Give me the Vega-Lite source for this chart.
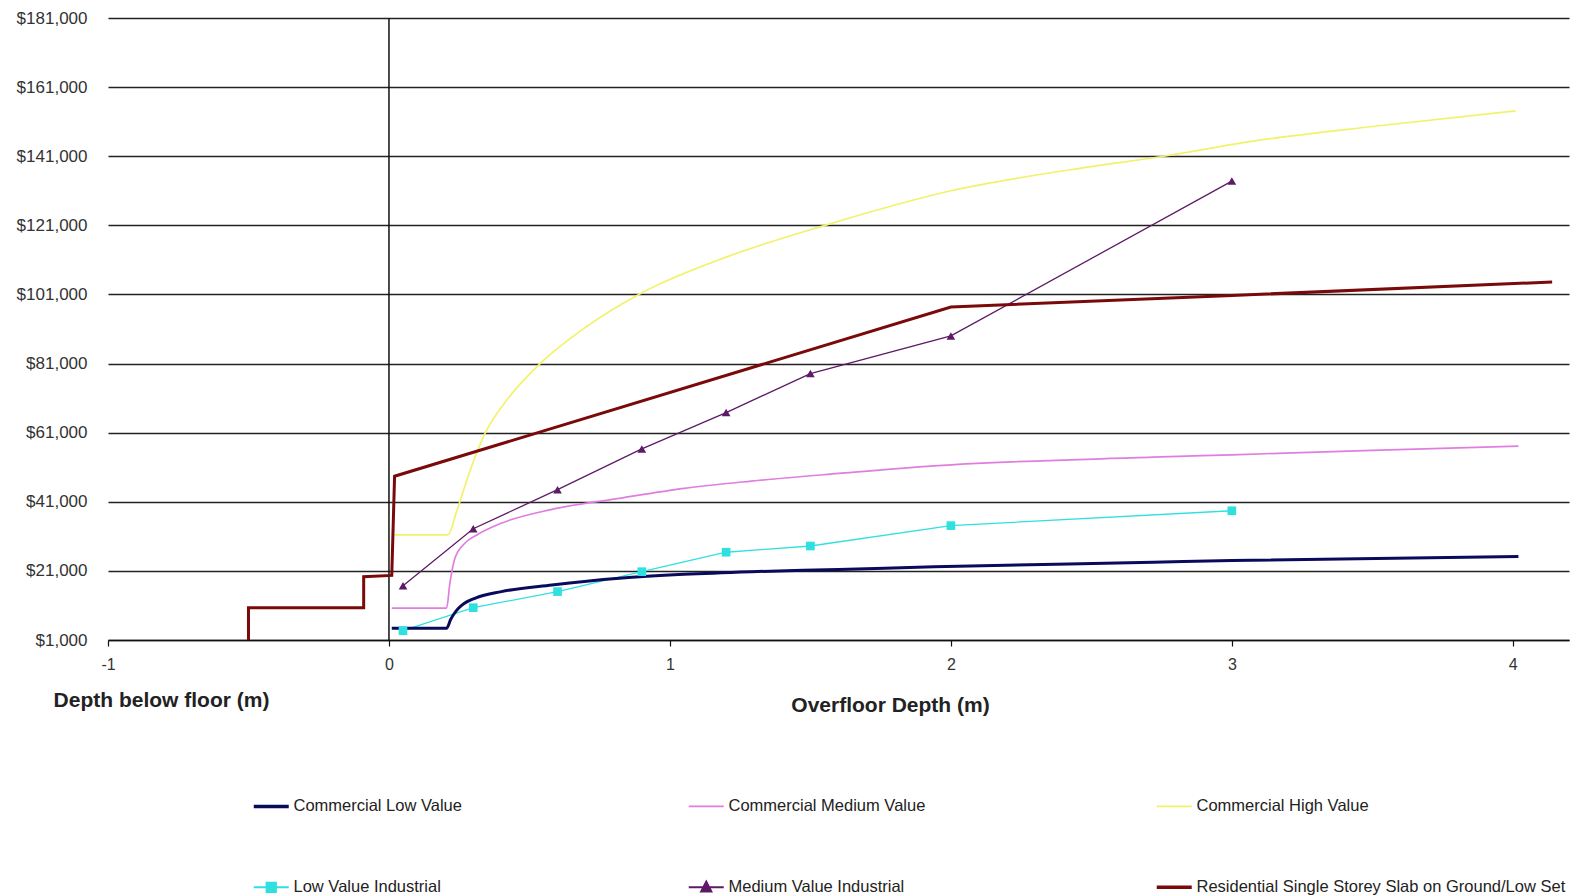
{
  "$schema": "https://vega.github.io/schema/vega-lite/v6.json",
  "width": 1461,
  "height": 622,
  "autosize": "none",
  "padding": {"left": 108, "top": 18, "right": 1, "bottom": 255},
  "background": "white",
  "config": {"font": "Liberation Sans", "view": {"stroke": null}},
  "data": {"values": [
    {"s": "Commercial Low Value", "i": 0, "x": 0.01, "y": 4400},
    {"s": "Commercial Low Value", "i": 1, "x": 0.205, "y": 4400},
    {"s": "Commercial Low Value", "i": 2, "x": 0.22, "y": 7000},
    {"s": "Commercial Low Value", "i": 3, "x": 0.24, "y": 9500},
    {"s": "Commercial Low Value", "i": 4, "x": 0.26, "y": 11100},
    {"s": "Commercial Low Value", "i": 5, "x": 0.31, "y": 13200},
    {"s": "Commercial Low Value", "i": 6, "x": 0.4, "y": 15000},
    {"s": "Commercial Low Value", "i": 7, "x": 0.58, "y": 16900},
    {"s": "Commercial Low Value", "i": 8, "x": 0.82, "y": 18850},
    {"s": "Commercial Low Value", "i": 9, "x": 1.05, "y": 20000},
    {"s": "Commercial Low Value", "i": 10, "x": 1.29, "y": 20770},
    {"s": "Commercial Low Value", "i": 11, "x": 1.6, "y": 21400},
    {"s": "Commercial Low Value", "i": 12, "x": 1.94, "y": 22200},
    {"s": "Commercial Low Value", "i": 13, "x": 2.72, "y": 23500},
    {"s": "Commercial Low Value", "i": 14, "x": 3.0, "y": 24000},
    {"s": "Commercial Low Value", "i": 15, "x": 4.02, "y": 25200},
    {"s": "Commercial Medium Value", "i": 0, "x": 0.01, "y": 10200},
    {"s": "Commercial Medium Value", "i": 1, "x": 0.205, "y": 10200},
    {"s": "Commercial Medium Value", "i": 2, "x": 0.217, "y": 17500},
    {"s": "Commercial Medium Value", "i": 3, "x": 0.235, "y": 24700},
    {"s": "Commercial Medium Value", "i": 4, "x": 0.27, "y": 29000},
    {"s": "Commercial Medium Value", "i": 5, "x": 0.313, "y": 31400},
    {"s": "Commercial Medium Value", "i": 6, "x": 0.4, "y": 34800},
    {"s": "Commercial Medium Value", "i": 7, "x": 0.58, "y": 38800},
    {"s": "Commercial Medium Value", "i": 8, "x": 0.82, "y": 42000},
    {"s": "Commercial Medium Value", "i": 9, "x": 1.05, "y": 44900},
    {"s": "Commercial Medium Value", "i": 10, "x": 1.29, "y": 47000},
    {"s": "Commercial Medium Value", "i": 11, "x": 1.6, "y": 49200},
    {"s": "Commercial Medium Value", "i": 12, "x": 1.94, "y": 51400},
    {"s": "Commercial Medium Value", "i": 13, "x": 2.72, "y": 53900},
    {"s": "Commercial Medium Value", "i": 14, "x": 3.0, "y": 54600},
    {"s": "Commercial Medium Value", "i": 15, "x": 3.5, "y": 55900},
    {"s": "Commercial Medium Value", "i": 16, "x": 4.02, "y": 57100},
    {"s": "Commercial High Value", "i": 0, "x": 0.02, "y": 31400},
    {"s": "Commercial High Value", "i": 1, "x": 0.21, "y": 31400},
    {"s": "Commercial High Value", "i": 2, "x": 0.24, "y": 38000},
    {"s": "Commercial High Value", "i": 3, "x": 0.27, "y": 45500},
    {"s": "Commercial High Value", "i": 4, "x": 0.3, "y": 52500},
    {"s": "Commercial High Value", "i": 5, "x": 0.34, "y": 60500},
    {"s": "Commercial High Value", "i": 6, "x": 0.42, "y": 70500},
    {"s": "Commercial High Value", "i": 7, "x": 0.538, "y": 81000},
    {"s": "Commercial High Value", "i": 8, "x": 0.7, "y": 91500},
    {"s": "Commercial High Value", "i": 9, "x": 0.889, "y": 101000},
    {"s": "Commercial High Value", "i": 10, "x": 1.2, "y": 111800},
    {"s": "Commercial High Value", "i": 11, "x": 1.552, "y": 121000},
    {"s": "Commercial High Value", "i": 12, "x": 2.0, "y": 131000},
    {"s": "Commercial High Value", "i": 13, "x": 2.5, "y": 138000},
    {"s": "Commercial High Value", "i": 14, "x": 2.758, "y": 141000},
    {"s": "Commercial High Value", "i": 15, "x": 3.07, "y": 145300},
    {"s": "Commercial High Value", "i": 16, "x": 3.5, "y": 149600},
    {"s": "Commercial High Value", "i": 17, "x": 4.01, "y": 154100},
    {"s": "Low Value Industrial", "i": 0, "x": 0.05, "y": 3700},
    {"s": "Low Value Industrial", "i": 1, "x": 0.3, "y": 10350},
    {"s": "Low Value Industrial", "i": 2, "x": 0.6, "y": 15000},
    {"s": "Low Value Industrial", "i": 3, "x": 0.9, "y": 20770},
    {"s": "Low Value Industrial", "i": 4, "x": 1.2, "y": 26400},
    {"s": "Low Value Industrial", "i": 5, "x": 1.5, "y": 28200},
    {"s": "Low Value Industrial", "i": 6, "x": 2.0, "y": 34100},
    {"s": "Low Value Industrial", "i": 7, "x": 3.0, "y": 38400},
    {"s": "Medium Value Industrial", "i": 0, "x": 0.05, "y": 16700},
    {"s": "Medium Value Industrial", "i": 1, "x": 0.3, "y": 33200},
    {"s": "Medium Value Industrial", "i": 2, "x": 0.6, "y": 44500},
    {"s": "Medium Value Industrial", "i": 3, "x": 0.9, "y": 56300},
    {"s": "Medium Value Industrial", "i": 4, "x": 1.2, "y": 66800},
    {"s": "Medium Value Industrial", "i": 5, "x": 1.5, "y": 78100},
    {"s": "Medium Value Industrial", "i": 6, "x": 2.0, "y": 89000},
    {"s": "Medium Value Industrial", "i": 7, "x": 3.0, "y": 133800},
    {"s": "Residential Single Storey Slab on Ground/Low Set", "i": 0, "x": -0.5, "y": 1000},
    {"s": "Residential Single Storey Slab on Ground/Low Set", "i": 1, "x": -0.5, "y": 10350},
    {"s": "Residential Single Storey Slab on Ground/Low Set", "i": 2, "x": -0.09, "y": 10350},
    {"s": "Residential Single Storey Slab on Ground/Low Set", "i": 3, "x": -0.09, "y": 19300},
    {"s": "Residential Single Storey Slab on Ground/Low Set", "i": 4, "x": 0.01, "y": 19700},
    {"s": "Residential Single Storey Slab on Ground/Low Set", "i": 5, "x": 0.02, "y": 48400},
    {"s": "Residential Single Storey Slab on Ground/Low Set", "i": 6, "x": 2.0, "y": 97370},
    {"s": "Residential Single Storey Slab on Ground/Low Set", "i": 7, "x": 3.0, "y": 100700},
    {"s": "Residential Single Storey Slab on Ground/Low Set", "i": 8, "x": 4.14, "y": 104600}
  ]},
  "resolve": {"axis": {"x": "independent"}},
  "layer": [
    {
      "data": {"values": [{"zero": 0}]},
      "mark": {"type": "rule", "color": "#111111", "strokeWidth": 1.5},
      "encoding": {
        "x": {"field": "zero", "type": "quantitative",
          "axis": {"orient": "bottom", "title": "Depth below floor (m)", "labels": false, "ticks": false, "domain": false, "grid": false,
            "titleFontSize": 21, "titleFontWeight": "bold", "titleColor": "#222222",
            "titleX": 53, "titleY": 60, "titleAlign": "center", "titleBaseline": "middle"}}
      }
    },
    {
      "transform": [{"filter": "datum.s === 'Commercial Medium Value' || datum.s === 'Commercial High Value'"}],
      "mark": {"type": "line", "interpolate": "monotone", "strokeWidth": 1.7},
      "encoding": {
        "x": {"field": "x", "type": "quantitative",
          "scale": {"domain": [-1, 4.2], "nice": false, "zero": false},
          "axis": {"orient": "bottom", "title": "Overfloor Depth (m)", "values": [-1, 0, 1, 2, 3, 4], "labelExpr": "'' + datum.value",
            "grid": false, "domainColor": "#111111", "domainWidth": 1.5, "tickColor": "#111111", "tickWidth": 1.2, "tickSize": 6,
            "labelFontSize": 16, "labelColor": "#333333", "labelPadding": 10, "labelFlush": false,
            "titleFontSize": 21, "titleFontWeight": "bold", "titleColor": "#222222",
            "titleX": 782, "titleY": 65, "titleAlign": "center", "titleBaseline": "middle"}},
        "y": {"field": "y", "type": "quantitative",
          "scale": {"domain": [1000, 181000], "nice": false, "zero": false},
          "axis": {"title": null, "values": [1000, 21000, 41000, 61000, 81000, 101000, 121000, 141000, 161000, 181000],
            "format": "$,.0f", "grid": true, "gridColor": "#222222", "gridWidth": 1.6, "ticks": false, "tickSize": 0,
            "domain": false, "labelFontSize": 17, "labelColor": "#333333", "labelPadding": 21}},
        "color": {"field": "s", "type": "nominal",
          "scale": {"domain": ["Commercial Low Value", "Commercial Medium Value", "Commercial High Value", "Low Value Industrial", "Medium Value Industrial", "Residential Single Storey Slab on Ground/Low Set"],
            "range": ["#0a0a5c", "#e07ee0", "#f2f26a", "#30e0e0", "#5e1a66", "#7a0a0a"]},
          "legend": {"title": null, "orient": "none", "legendX": 155, "legendY": 780, "direction": "horizontal", "columns": 3,
            "columnPadding": 223, "rowPadding": 62, "symbolSize": 1225, "symbolType": "stroke", "symbolStrokeWidth": 2,
            "labelFontSize": 16.5, "labelColor": "#222222", "labelLimit": 0, "labelOffset": 14, "padding": 0,
            "encode": {"symbols": {"update": {
              "shape": {"signal": "datum.value === 'Low Value Industrial' ? 'M-1,0H1M-0.27,-0.27H0.27V0.27H-0.27Z' : datum.value === 'Medium Value Industrial' ? 'M-1,0H1M0,-0.33L0.3,0.25H-0.3Z' : 'M-1,0H1'"},
              "size": {"value": 1225},
              "fill": {"scale": "color", "field": "value"},
              "stroke": {"scale": "color", "field": "value"},
              "strokeWidth": {"signal": "datum.value === 'Commercial Low Value' || datum.value === 'Residential Single Storey Slab on Ground/Low Set' ? 3.5 : 1.8"},
              "opacity": {"value": 1}
            }}}}},
        "order": {"field": "i", "type": "quantitative"}
      }
    },
    {
      "transform": [{"filter": "datum.s === 'Low Value Industrial' || datum.s === 'Medium Value Industrial'"}],
      "mark": {"type": "line", "interpolate": "linear", "strokeWidth": 1.3},
      "encoding": {
        "x": {"field": "x", "type": "quantitative", "axis": null},
        "y": {"field": "y", "type": "quantitative"},
        "color": {"field": "s", "type": "nominal"},
        "order": {"field": "i", "type": "quantitative"}
      }
    },
    {
      "transform": [{"filter": "datum.s === 'Commercial Low Value'"}],
      "mark": {"type": "line", "interpolate": "monotone", "strokeWidth": 3},
      "encoding": {
        "x": {"field": "x", "type": "quantitative", "axis": null},
        "y": {"field": "y", "type": "quantitative"},
        "color": {"field": "s", "type": "nominal"},
        "order": {"field": "i", "type": "quantitative"}
      }
    },
    {
      "transform": [{"filter": "datum.s === 'Residential Single Storey Slab on Ground/Low Set'"}],
      "mark": {"type": "line", "interpolate": "linear", "strokeWidth": 3},
      "encoding": {
        "x": {"field": "x", "type": "quantitative", "axis": null},
        "y": {"field": "y", "type": "quantitative"},
        "color": {"field": "s", "type": "nominal"},
        "order": {"field": "i", "type": "quantitative"}
      }
    },
    {
      "transform": [{"filter": "datum.s === 'Low Value Industrial' || datum.s === 'Medium Value Industrial'"}],
      "mark": {"type": "point", "filled": true, "opacity": 1},
      "encoding": {
        "x": {"field": "x", "type": "quantitative", "axis": null},
        "y": {"field": "y", "type": "quantitative"},
        "color": {"field": "s", "type": "nominal"},
        "size": {"value": 75},
        "shape": {"field": "s", "type": "nominal",
          "scale": {"domain": ["Low Value Industrial", "Medium Value Industrial"], "range": ["square", "triangle-up"]},
          "legend": null}
      }
    }
  ]
}
